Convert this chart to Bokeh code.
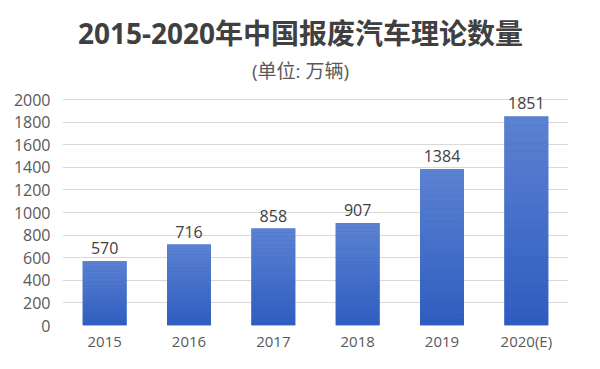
from bokeh.plotting import figure
from bokeh.models import FixedTicker, Range1d, ColumnDataSource
from bokeh.core.properties import value
from bokeh.embed import file_html
from bokeh.resources import INLINE

years = ["2015", "2016", "2017", "2018", "2019", "2020(E)"]
counts = [570, 716, 858, 907, 1384, 1851]
y_ticks = [0, 200, 400, 600, 800, 1000, 1200, 1400, 1600, 1800, 2000]
title_text = "2015-2020年中国报废汽车理论数量"
subtitle_text = "(单位: 万辆)"

FONT = "Open Sans, Noto Sans CJK SC"

# layout (pixels)
W, H = 584, 353
FRAME_LEFT, FRAME_RIGHT = 62, 568
Y0_PX, Y2000_PX = 328, 100      # pixel rows of value 0 and value 2000
TITLE_CX = 300
y_max = max(y_ticks)
# frame runs from the canvas top down to the zero line; extend the range so 2000 sits at Y2000_PX
y_top = y_max * Y0_PX / (Y0_PX - Y2000_PX)

p = figure(x_range=years, y_range=Range1d(0, y_top), width=W, height=H,
           output_backend="svg", toolbar_location=None,
           min_border_left=FRAME_LEFT, min_border_right=W - FRAME_RIGHT,
           min_border_top=0, min_border_bottom=H - Y0_PX)
p.outline_line_color = None
p.background_fill_color = "white"
p.border_fill_color = "white"

# gradient bars: base bar then stacked slices lighter toward top
N = 24
c_bot = (0x2E, 0x5C, 0xBF)
c_top = (0x5C, 0x82, 0xD2)
p.vbar(x=years, top=counts, width=0.52, fill_color="#3f6ac6", line_color=None)
for k in range(N):
    t = (k + 0.5) / N
    col = "#%02x%02x%02x" % tuple(int(round(a + (b - a) * t)) for a, b in zip(c_bot, c_top))
    bots = [v * k / N for v in counts]
    tops = [v * (k + 1) / N for v in counts]
    p.vbar(x=years, bottom=bots, top=tops, width=0.52, fill_color=col, line_color=None)

src = ColumnDataSource(dict(x=years, y=counts, t=[str(v) for v in counts]))
p.text(x="x", y="y", text="t", source=src, text_align="center", text_baseline="bottom",
       y_offset=-7, text_font=value(FONT), text_font_size="16px", text_color="#404040")

# titles, anchored to top of frame (canvas top) and centred on the canvas
cx_offset = TITLE_CX - (FRAME_LEFT + 2.5 * (FRAME_RIGHT - FRAME_LEFT) / 6)
p.text(x=["2017"], y=[y_top], text=[title_text], x_offset=cx_offset, y_offset=32,
       text_align="center", text_baseline="middle", text_font=value(FONT),
       text_font_size="28px", text_font_style="bold", text_color="#404040")
p.text(x=["2017"], y=[y_top], text=[subtitle_text], x_offset=cx_offset, y_offset=70,
       text_align="center", text_baseline="middle", text_font=value(FONT),
       text_font_size="19px", text_color="#595959")

for ax in (p.xaxis, p.yaxis):
    ax.axis_line_color = None
    ax.major_tick_line_color = None
    ax.minor_tick_line_color = None
    ax.major_tick_out = 0
    ax.major_tick_in = 0
    ax.minor_tick_out = 0
    ax.major_label_text_font = FONT
    ax.major_label_text_color = "#595959"
p.yaxis.ticker = FixedTicker(ticks=y_ticks)
p.yaxis.major_label_standoff = 12
p.xaxis.major_label_standoff = 5
p.yaxis.major_label_text_font_size = "16px"
p.xaxis.major_label_text_font_size = "15px"
p.xgrid.grid_line_color = None
p.ygrid.grid_line_color = "#d9d9d9"
p.ygrid.ticker = FixedTicker(ticks=y_ticks)

open("out.html", "w").write(file_html(p, INLINE))
